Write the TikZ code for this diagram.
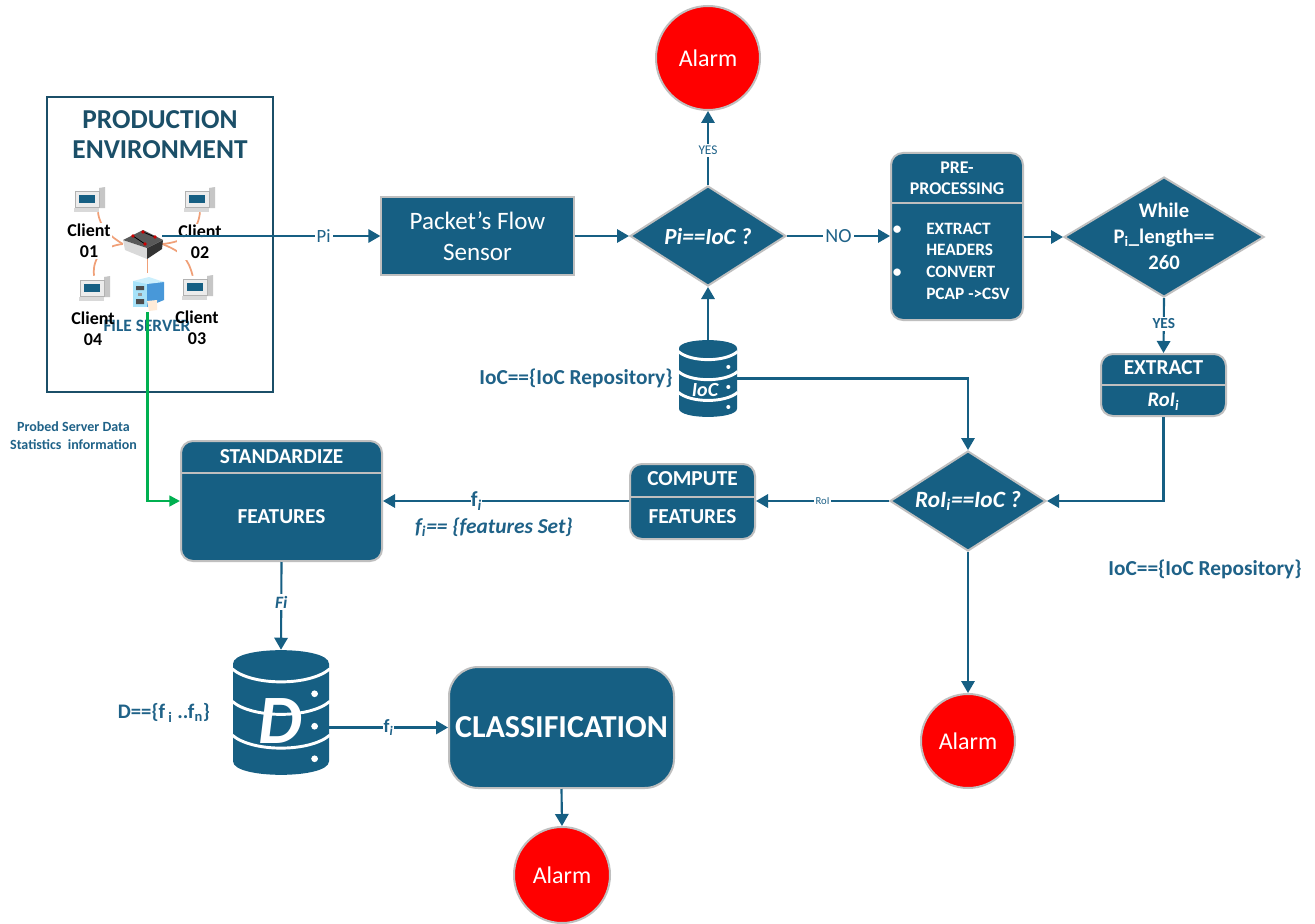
\documentclass[tikz,border=0pt]{standalone}
\usepackage{fontspec}
\setmainfont{Carlito}
\usetikzlibrary{arrows.meta,positioning,shapes.geometric}
\definecolor{flowblue}{HTML}{165F83}
\definecolor{titleblue}{HTML}{1B4F68}
\definecolor{labelblue}{HTML}{1F6288}
\definecolor{boxgray}{HTML}{BFBFBF}
\definecolor{linkorange}{HTML}{F0A078}
\definecolor{probegreen}{HTML}{00B050}
\newcommand{\pxu}{0.75pt}
\tikzstyle{line} = [draw, -{Triangle[length=9pt,width=10pt]}, line width=1.6pt, color=flowblue]
\tikzstyle{probeline} = [draw, -{Triangle[length=8pt,width=8pt]}, line width=1.9pt, color=probegreen]
\tikzstyle{linkline} = [draw, line width=1.3pt, color=linkorange]
\tikzstyle{flowbox} = [draw=boxgray, fill=flowblue, line width=1.5pt, rounded corners=9pt, inner sep=0pt]
\tikzstyle{divider} = [draw=boxgray, line width=1.5pt]
\tikzstyle{decision} = [diamond, draw=boxgray, fill=flowblue, line width=1.5pt, inner sep=0pt, aspect=1.6]
\tikzstyle{alarm} = [circle, draw=boxgray, fill=red, line width=1.5pt, text=white, inner sep=0pt, font=\fontsize{18}{20}\selectfont]
\tikzstyle{boxtext} = [text=white, align=center, inner sep=0pt, font=\bfseries\fontsize{16}{18}\selectfont]
\tikzstyle{edgelabel} = [fill=white, inner sep=1.5pt, text=labelblue]
\tikzstyle{notetext} = [text=labelblue, inner sep=0pt, align=center, font=\bfseries\fontsize{16}{19}\selectfont]
\tikzstyle{clientlabel} = [text=black, align=center, inner sep=1pt, font=\fontsize{13.5}{16}\selectfont\bfseries]
\tikzstyle{iconspot} = [inner sep=0pt, minimum width=30*\pxu, minimum height=24*\pxu]
% desktop icon, top left corner at #1,#2
\newcommand{\pcicon}[2]{
	\begin{scope}[shift={(#1,#2)}]
		\fill[gray!45] (24,0) -- (30,-1) -- (30,20) -- (24,20) -- cycle;
		\fill[gray!15] (0,3) rectangle (24,19);
		\draw[gray!60, line width=.4pt] (0,3) rectangle (24,19);
		\fill[flowblue] (4,7) rectangle (20,15);
		\fill[gray!30] (-1,20) rectangle (24,24);
	\end{scope}
}
% storage drum, top left corner at #1,#2, size #3 x #4
\newcommand{\drumicon}[4]{
	\begin{scope}[shift={(#1,#2)}, xscale=#3, yscale=#4]
		\fill[flowblue] (0,.11) .. controls (0,-.035) and (1,-.035) .. (1,.11)
			-- (1,.89) .. controls (1,1.035) and (0,1.035) .. (0,.89) -- cycle;
		\foreach \gapy in {.15,.41,.68}
			\draw[white, line width=2.2pt] (-.01,\gapy) .. controls (.2,\gapy+.14) and (.8,\gapy+.14) .. (1.01,\gapy);
		\foreach \doty in {.35,.61,.87}
			\fill[white] (.85,\doty) circle[x radius=.035, y radius=.035*#3/#4];
	\end{scope}
}

\begin{document}
\begin{tikzpicture}[x=\pxu,y=-\pxu]
	\useasboundingbox (0,0) rectangle (1315,924);
	\fill[white] (0,0) rectangle (1315,924);

	% Production environment
	\node[draw=titleblue, line width=2.2pt, inner sep=0pt, minimum width=226*\pxu, minimum height=295*\pxu] (prod) at (160,244.5) {};
	\node[text=titleblue, align=center, inner sep=0pt, font=\bfseries\fontsize{20.5}{22}\selectfont] (prodtitle) at (160,134.5) {PRODUCTION\\ENVIRONMENT};
	\node[iconspot] (client1) at (90,200) {};
	\node[iconspot] (client2) at (200,200) {};
	\node[iconspot] (client3) at (198,288) {};
	\node[iconspot] (client4) at (94,288) {};
	\node[inner sep=0pt, minimum width=39*\pxu, minimum height=30*\pxu] (switch) at (142.5,244) {};
	\node[inner sep=0pt, minimum width=29*\pxu, minimum height=39*\pxu] (server) at (147.5,292.5) {};
	% Links:
	\draw[linkline] ([xshift=6pt]client1.south) .. controls (100,228) and (110,236) .. (switch.west);
	\draw[linkline] (client2.south) .. controls (198,232) and (185,242) .. (switch.east);
	\draw[linkline] ([xshift=-4pt]client3.north) .. controls (188,258) and (182,252) .. (switch.east);
	\draw[linkline] (client4.north) .. controls (92,256) and (105,246) .. (switch.west);
	\draw[linkline] (server.north) -- (server.north |- switch.south);
	% Labels on the links:
	\node[clientlabel, fill=white] (label1) at (89,241) {Client\\01};
	\node[clientlabel, fill=white] (label2) at (200,242) {Client\\02};
	\pcicon{75}{188}
	\pcicon{185}{188}
	\pcicon{183}{276}
	\pcicon{80}{277}
	% Switch icon:
	\fill[gray!30] (123,240) -- (125,250) -- (147,259) -- (147,248) -- cycle;
	\fill[black!80] (147,248) -- (147,259) -- (162,249) -- (163,240) -- cycle;
	\fill[black!65] (123,240) -- (143,230) -- (163,240) -- (147,248) -- cycle;
	\draw[black, line width=.6pt] (133,236) -- (145,244) (155,237) -- (143,232);
	\fill[red!80!black] (133,236) circle (1.8) (143,232) circle (1.8) (155,237) circle (1.8) (145,244) circle (1.8);
	% File server icon:
	\fill[cyan!35] (133,281) rectangle (147,307);
	\fill[black!70] (136,286) rectangle (144,290) (136,299) rectangle (144,304);
	\fill[black!40] (138,293) rectangle (142,296);
	\fill[cyan!65!blue!75] (147,281) -- (164,282) -- (164,300) -- (147,307) -- cycle;
	\fill[cyan!20] (133,281) -- (149,277) -- (164,282) -- (147,284) -- cycle;
	\fill[orange!15] (147,301) -- (157,300) -- (157,310) -- (149,311) -- cycle;
	\node[text=labelblue, inner sep=0pt, font=\bfseries\fontsize{13}{15}\selectfont] (serverlabel) at (147,326) {FILE SERVER};
	\node[clientlabel, fill=none] (label4) at (93,329) {Client\\04};
	\node[clientlabel, fill=none] (label3) at (197,328) {Client\\03};

	% Flow boxes
	\node[draw=boxgray, fill=flowblue, line width=1pt, inner sep=0pt, minimum width=193*\pxu, minimum height=78*\pxu, text=white, align=center, font=\fontsize{18.8}{23}\selectfont] (sensor) at (477.5,236) {Packet’s Flow\\Sensor};
	\node[decision, minimum width=156*\pxu, minimum height=100*\pxu] (pidec) at (708,236) {};
	\node[text=white, inner sep=0pt, font=\bfseries\itshape\fontsize{17.3}{20}\selectfont] (pitext) at (708,236) {Pi==IoC ?};
	\node[alarm, minimum size=104*\pxu] (alarmtop) at (708,58) {Alarm};

	\node[flowbox, minimum width=132*\pxu, minimum height=167*\pxu] (pre) at (957,236.5) {};
	\draw[divider] (pre.west |- 0,203) -- (pre.east |- 0,203);
	\node[boxtext, font=\bfseries\fontsize{13.4}{15.5}\selectfont] (pretitle) at (957,178) {PRE-\\PROCESSING};
	\node[boxtext, align=left, anchor=west, font=\bfseries\fontsize{13}{16.3}\selectfont] (prebody) at (926,261) {\llap{\textbullet\hspace{18.5pt}}EXTRACT\\HEADERS\\\llap{\textbullet\hspace{18.5pt}}CONVERT\\PCAP ->CSV};

	\node[decision, minimum width=200*\pxu, minimum height=120*\pxu] (whiledec) at (1164,237) {};
	\node[boxtext, font=\bfseries\fontsize{15.5}{19.5}\selectfont] (whiletext) at (1164,236) {While\\P\textsubscript{i}\_length==\\260};

	\node[flowbox, minimum width=125*\pxu, minimum height=62*\pxu] (extract) at (1163.5,385) {};
	\draw[divider] (extract.west) -- (extract.east);
	\node[boxtext] (extracttitle) at (1163.5,368) {EXTRACT};
	\node[boxtext, font=\bfseries\itshape\fontsize{15.5}{18}\selectfont] (extractroi) at (1163.5,402) {RoI\textsubscript{i}};

	\node[decision, minimum width=156*\pxu, minimum height=100*\pxu] (roidec) at (968,501) {};
	\node[text=white, inner sep=0pt, font=\bfseries\itshape\fontsize{17.5}{20}\selectfont] (roitext) at (968,501) {RoI\textsubscript{i}==IoC ?};
	\node[alarm, minimum size=94*\pxu] (alarmright) at (968,741) {Alarm};

	\node[flowbox, minimum width=125*\pxu, minimum height=75*\pxu] (compute) at (692.5,501.5) {};
	\draw[divider] (compute.west |- 0,497) -- (compute.east |- 0,497);
	\node[boxtext] (computetitle) at (692.5,479) {COMPUTE};
	\node[boxtext] (computebody) at (692.5,517) {FEATURES};

	\node[flowbox, minimum width=201*\pxu, minimum height=120*\pxu] (standard) at (281.5,501) {};
	\draw[divider] (standard.west |- 0,473) -- (standard.east |- 0,473);
	\node[boxtext] (standardtitle) at (281.5,457) {STANDARDIZE};
	\node[boxtext] (standardbody) at (281.5,517) {FEATURES};

	\node[flowbox, rounded corners=22pt, minimum width=225*\pxu, minimum height=121*\pxu] (class) at (561.5,727.5) {};
	\node[boxtext, font=\bfseries\fontsize{24}{28}\selectfont] (classtext) at (561.5,727) {CLASSIFICATION};
	\node[alarm, minimum size=96*\pxu] (alarmbottom) at (562,875) {Alarm};

	% Storage:
	\drumicon{679}{340}{58}{77}
	\node[inner sep=0pt, minimum width=58*\pxu, minimum height=77*\pxu] (ioc) at (708,378.5) {};
	\node[text=white, inner sep=0pt, font=\itshape\bfseries\fontsize{15}{18}\selectfont] (ioctext) at (705,390) {IoC};
	\drumicon{233}{650}{96}{125}
	\node[inner sep=0pt, minimum width=96*\pxu, minimum height=125*\pxu] (dset) at (281,712.5) {};
	\node[text=white, inner sep=0pt, font=\itshape\bfseries\fontsize{52}{54}\selectfont] (dsettext) at (280,721) {D};

	% Flows:
	\draw[line] (switch.east |- sensor.west) -- node[edgelabel, pos=.74, font=\fontsize{14}{16}\selectfont]{Pi} (sensor.west);
	\draw[line] (sensor.east) -- (pidec.west);
	\draw[line] (pidec.north) -- node[edgelabel, pos=.47, font=\fontsize{10}{12}\selectfont]{YES} (alarmtop.south);
	\draw[line] (pidec.east) -- node[edgelabel, pos=.5, font=\fontsize{15}{17}\selectfont]{NO} (pre.west |- pidec.east);
	\draw[line] (pre.east |- whiledec.west) -- (whiledec.west);
	\draw[line] (whiledec.south) -- node[edgelabel, pos=.47, font=\bfseries\fontsize{11.5}{13}\selectfont]{YES} (extract.north);
	\draw[line] (ioc.north) -- (pidec.south);
	\draw[line] (ioc.east) -| (roidec.north);
	\draw[line] (extract.south) |- (roidec.east);
	\draw[line] (roidec.west) -- node[edgelabel, pos=.5, font=\fontsize{8}{10}\selectfont]{RoI} (compute.east |- roidec.west);
	\draw[line] (compute.west |- standard.east) -- node[edgelabel, pos=.62, inner sep=0pt, font=\bfseries\fontsize{16}{18}\selectfont]{f\textsubscript{\textit{i}}} (standard.east);
	\draw[line] (roidec.south) -- (alarmright.north);
	\draw[line] (standard.south) -- node[edgelabel, pos=.46, font=\bfseries\itshape\fontsize{13}{15}\selectfont]{Fi} (dset.north);
	\draw[line] (dset.east |- class.west) -- node[edgelabel, pos=.5, inner sep=.5pt, font=\bfseries\fontsize{14}{16}\selectfont]{f\textsubscript{\textit{i}}} (class.west);
	\draw[line] (class.south) -- (alarmbottom.north);
	\draw[probeline] (server.south) |- (standard.west);

	% Notes:
	\node[notetext, font=\bfseries\fontsize{10.5}{13}\selectfont] (probenote) at (73.5,435.5) {Probed Server Data\\Statistics\ \ information};
	\node[notetext] (iocnote) at (576,378) {IoC==\{IoC Repository\}};
	\node[notetext] (iocnotetwo) at (1205,569) {IoC==\{IoC Repository\}};
	\node[notetext, font=\bfseries\itshape\fontsize{16}{19}\selectfont] (featnote) at (494,527) {f\textsubscript{i}== \{features Set\}};
	\node[notetext, font=\bfseries\fontsize{15.5}{18}\selectfont] (dnote) at (164,713) {D==\{f\textsubscript{ i} ..f\textsubscript{n}\}};
\end{tikzpicture}
\end{document}
